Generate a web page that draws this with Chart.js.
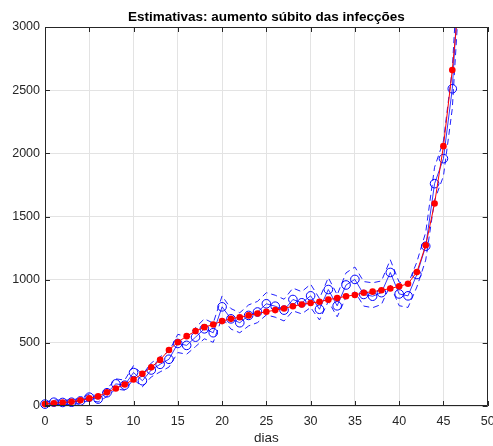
<!DOCTYPE html>
<html>
<head>
<meta charset="utf-8">
<script src="https://cdn.jsdelivr.net/npm/chart.js@4/dist/chart.umd.min.js"></script>
<style>
  html, body { margin: 0; padding: 0; background: #ffffff; }
  #wrap { width: 493px; height: 446px; }
</style>
</head>
<body>
<div id="wrap"><canvas id="c" width="493" height="446"></canvas></div>
<script>
// Daily infections: observed counts, their band, and the model estimate
const days = [0,1,2,3,4,5,6,7,8,9,10,11,12,13,14,15,16,17,18,19,20,21,22,23,24,25,26,27,28,29,30,31,32,33,34,35,36,37,38,39,40,41,42,43,44,45,46,47];

const observed = [15,30,28,30,40,70,55,105,175,165,265,200,285,330,370,495,480,545,611,580,785,690,659,717,744,809,790,759,843,817,872,766,922,793,958,1002,883,869,897,1057,887,872,1041,1265,1760,1958,2511,3700];

const upperBound = [30,48,46,48,60,95,78,135,215,205,320,248,340,390,432,567,550,620,690,656,871,771,738,800,828,897,877,845,933,905,964,851,1016,880,1054,1100,985,975,990,1157,980,964,1140,1375,1890,2097,2668,3890];

const lowerBound = [0,12,10,12,20,45,32,75,135,125,210,152,230,270,308,423,410,470,532,504,699,609,580,634,660,721,703,673,753,729,780,681,828,706,862,904,791,778,804,957,794,780,942,1155,1630,1819,2354,3510];

const estimate = [15,22,27,34,45,60,76,109,139,170,210,255,307,365,443,505,553,593,624,645,672,690,703,717,732,746,759,772,790,804,815,825,842,854,869,879,896,905,916,930,947,968,1060,1272,1603,2057,2659,3400];

const xTicks = [0,5,10,15,20,25,30,35,40,45,50];
const yTicks = [0,500,1000,1500,2000,2500,3000];

const titleText = 'Estimativas: aumento súbito das infecções';
const xTitle = 'dias';

const AXIS = '#262626';
const GRID = '#e3e3e3';
const FONT = '"Liberation Sans", Arial, Helvetica, sans-serif';

const pts = arr => days.map((d, i) => ({ x: d, y: arr[i] }));

// Axes box, inward tick marks and the title
const boxPlugin = {
  id: 'box',
  afterDraw(chart) {
    const { ctx, chartArea: a, scales } = chart;
    ctx.save();
    ctx.strokeStyle = AXIS;
    ctx.lineWidth = 1;
    ctx.beginPath();
    ctx.rect(Math.round(a.left) + 0.5, Math.round(a.top) + 0.5,
             Math.round(a.right - a.left) - 1, Math.round(a.bottom - a.top) - 1);
    ctx.stroke();
    const tl = 5;
    ctx.beginPath();
    xTicks.forEach(v => {
      const px = Math.round(scales.x.getPixelForValue(v)) + 0.5;
      ctx.moveTo(px, a.bottom); ctx.lineTo(px, a.bottom - tl);
      ctx.moveTo(px, a.top); ctx.lineTo(px, a.top + tl);
    });
    yTicks.forEach(v => {
      const py = Math.round(scales.y.getPixelForValue(v)) + 0.5;
      ctx.moveTo(a.left, py); ctx.lineTo(a.left + tl, py);
      ctx.moveTo(a.right, py); ctx.lineTo(a.right - tl, py);
    });
    ctx.stroke();
    ctx.fillStyle = '#000000';
    ctx.font = 'bold 13.5px ' + FONT;
    ctx.textAlign = 'center';
    ctx.textBaseline = 'middle';
    ctx.fillText(titleText, (a.left + a.right) / 2, 17);
    ctx.restore();
  }
};

new Chart(document.getElementById('c'), {
  type: 'line',
  data: {
    datasets: [
      {
        label: 'estimativa',
        data: pts(estimate),
        borderColor: '#ff0000',
        backgroundColor: '#ff0000',
        borderWidth: 1,
        pointRadius: 3.3,
        pointBorderWidth: 0,
        pointBackgroundColor: '#ff0000',
        tension: 0,
        order: 0,
        clip: { left: 8, right: 8, top: 0, bottom: 8 }
      },
      {
        label: 'observado',
        data: pts(observed),
        borderColor: '#0000ff',
        borderWidth: 0.8,
        pointRadius: 4.3,
        pointBorderWidth: 1,
        pointBorderColor: '#0000ff',
        pointBackgroundColor: 'rgba(0,0,0,0)',
        tension: 0,
        order: 1,
        clip: { left: 8, right: 8, top: 0, bottom: 8 }
      },
      {
        label: 'limite superior',
        data: pts(upperBound),
        borderColor: '#2020ff',
        borderWidth: 1,
        borderDash: [6, 4],
        pointRadius: 0,
        tension: 0,
        order: 2,
        clip: { left: 8, right: 8, top: 0, bottom: 8 }
      },
      {
        label: 'limite inferior',
        data: pts(lowerBound),
        borderColor: '#2020ff',
        borderWidth: 1,
        borderDash: [6, 4],
        pointRadius: 0,
        tension: 0,
        order: 2,
        clip: { left: 8, right: 8, top: 0, bottom: 8 }
      }
    ]
  },
  options: {
    responsive: false,
    animation: false,
    devicePixelRatio: 1,
    layout: { padding: { top: 27, right: 2, left: 0, bottom: 0 } },
    plugins: {
      legend: { display: false },
      tooltip: { enabled: false },
      title: { display: false }
    },
    scales: {
      x: {
        type: 'linear',
        min: 0, max: 50,
        afterBuildTicks: s => { s.ticks = xTicks.map(v => ({ value: v })); },
        afterFit: s => { s.height = 40; s.paddingLeft = 0; s.paddingRight = 0; },
        grid: { color: GRID, drawTicks: false, lineWidth: 1 },
        border: { display: false },
        ticks: {
          color: AXIS, padding: 8, maxRotation: 0, autoSkip: false,
          font: { family: FONT, size: 12.5 },
          callback: v => String(v)
        },
        title: {
          display: true, text: xTitle, color: AXIS,
          font: { family: FONT, size: 13.5 }, padding: { top: 1, bottom: 0 }
        }
      },
      y: {
        type: 'linear',
        min: 0, max: 3000,
        afterBuildTicks: s => { s.ticks = yTicks.map(v => ({ value: v })); },
        afterFit: s => { s.width = 45; s.paddingTop = 0; s.paddingBottom = 0; },
        grid: { color: GRID, drawTicks: false, lineWidth: 1 },
        border: { display: false },
        ticks: {
          color: AXIS, padding: 5, autoSkip: false,
          font: { family: FONT, size: 12.5 },
          callback: v => String(v)
        }
      }
    }
  },
  plugins: [boxPlugin]
});
</script>
</body>
</html>
